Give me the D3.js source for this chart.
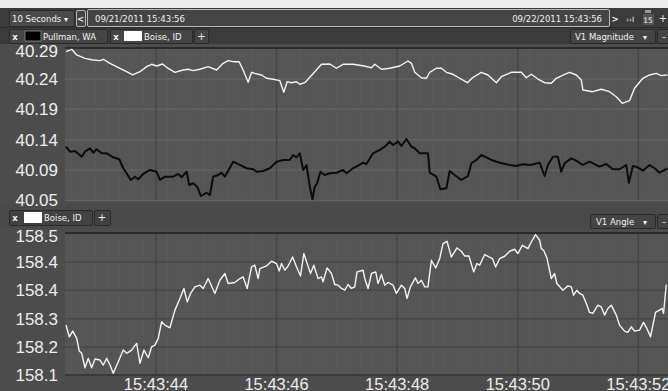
<!DOCTYPE html>
<html>
<head>
<meta charset="utf-8">
<script src="https://cdn.jsdelivr.net/npm/d3@7"></script>
<style>
  html, body { margin: 0; padding: 0; background: #e9e9e9; }
  svg { display: block; }
  .ui { font-family: "DejaVu Sans", Verdana, sans-serif; font-size: 8.5px; fill: #f2f2f2; }
  .tick text { font-family: "Liberation Sans", Arial, sans-serif; }
</style>
</head>
<body>
<svg id="chart" width="668" height="391"></svg>
<script>
// ---- data: seconds after 15:43:00 on 09/21/2011 ----
const pullmanMagTimes = [42.517,42.583,42.666,42.777,42.831,42.914,42.969,43.025,43.108,43.191,43.300,43.400,43.466,43.522,43.589,43.660,43.715,43.797,43.908,44.019,44.074,44.157,44.295,44.377,44.434,44.517,44.560,44.626,44.692,44.754,44.848,44.903,44.957,45.040,45.097,45.151,45.289,45.400,45.511,45.620,45.677,45.786,45.897,46.008,46.117,46.228,46.283,46.339,46.394,46.449,46.505,46.560,46.604,46.642,46.681,46.737,46.808,46.891,47.002,47.111,47.168,47.277,47.333,47.443,47.499,47.609,47.720,47.802,47.885,47.940,48.023,48.079,48.162,48.245,48.300,48.382,48.520,48.548,48.659,48.725,48.825,48.879,48.962,49.073,49.183,49.239,49.322,49.405,49.488,49.571,49.708,49.874,49.985,50.094,50.205,50.371,50.454,50.508,50.591,50.674,50.730,50.785,50.896,50.979,51.088,51.199,51.365,51.476,51.585,51.696,51.807,51.851,51.917,52.000,52.083,52.194,52.277,52.360,52.492];
const pullmanMagnitude = [40.1342,40.1263,40.1274,40.1184,40.1263,40.1316,40.1247,40.1301,40.1237,40.1237,40.1174,40.1143,40.1001,40.0922,40.0816,40.0868,40.0827,40.0911,40.0974,40.0947,40.0816,40.0868,40.0868,40.0911,40.0859,40.0947,40.0737,40.0764,40.0710,40.0563,40.0615,40.0579,40.0868,40.0895,40.0931,40.0868,40.1105,40.1053,40.1001,40.0985,40.0947,40.0958,40.1001,40.1105,40.1132,40.1132,40.1211,40.1174,40.1237,40.0974,40.1053,40.0710,40.0511,40.0710,40.0764,40.0947,40.0895,40.0922,40.0931,40.0974,40.0922,40.1001,40.1026,40.1089,40.1068,40.1237,40.1290,40.1342,40.1421,40.1368,40.1421,40.1353,40.1463,40.1342,40.1316,40.1237,40.1237,40.0931,40.0868,40.0669,40.0685,40.0958,40.0895,40.0816,40.0879,40.1080,40.1132,40.1211,40.1174,40.1132,40.1089,40.1053,40.1037,40.1064,40.1053,40.1089,40.0879,40.1053,40.1184,40.1184,40.0947,40.1080,40.1158,40.1121,40.1053,40.1105,40.1026,40.1068,40.0985,40.0985,40.1053,40.0773,40.1037,40.1016,40.0963,40.1053,40.1001,40.0931,40.1001];

const boiseMagTimes = [42.517,42.611,42.694,42.831,42.964,43.080,43.135,43.246,43.412,43.522,43.622,43.743,43.854,43.937,44.019,44.119,44.185,44.323,44.460,44.543,44.626,44.737,44.874,45.014,45.123,45.206,45.289,45.388,45.454,45.537,45.594,45.648,45.759,45.842,45.952,46.063,46.129,46.184,46.256,46.339,46.394,46.477,46.560,46.642,46.753,46.891,47.002,47.111,47.277,47.443,47.582,47.637,47.748,47.885,48.051,48.188,48.245,48.300,48.411,48.493,48.548,48.659,48.742,48.825,48.934,49.045,49.173,49.266,49.405,49.514,49.653,49.736,49.902,50.068,50.150,50.233,50.343,50.454,50.565,50.647,50.785,50.868,50.979,51.062,51.088,51.254,51.393,51.531,51.642,51.741,51.862,51.945,52.083,52.194,52.305,52.387,52.492];
const boiseMagnitude = [40.2842,40.2879,40.2790,40.2737,40.2710,40.2700,40.2722,40.2658,40.2580,40.2526,40.2474,40.2526,40.2605,40.2643,40.2616,40.2647,40.2595,40.2516,40.2553,40.2564,40.2542,40.2564,40.2605,40.2553,40.2658,40.2700,40.2684,40.2684,40.2553,40.2358,40.2516,40.2500,40.2474,40.2422,40.2406,40.2384,40.2200,40.2368,40.2352,40.2368,40.2327,40.2352,40.2437,40.2526,40.2643,40.2647,40.2580,40.2643,40.2643,40.2620,40.2589,40.2643,40.2564,40.2580,40.2616,40.2695,40.2658,40.2516,40.2431,40.2422,40.2516,40.2580,40.2580,40.2516,40.2485,40.2422,40.2352,40.2437,40.2516,40.2474,40.2352,40.2447,40.2516,40.2516,40.2431,40.2485,40.2410,40.2352,40.2343,40.2422,40.2485,40.2516,40.2474,40.2395,40.2237,40.2210,40.2248,40.2210,40.2131,40.2027,40.2068,40.2264,40.2422,40.2474,40.2500,40.2463,40.2474];

const boiseAngleTimes = [42.517,42.571,42.628,42.694,42.737,42.777,42.831,42.886,42.942,42.997,43.080,43.135,43.191,43.246,43.300,43.383,43.466,43.522,43.605,43.688,43.743,43.809,43.880,43.937,43.991,44.046,44.102,44.157,44.240,44.323,44.406,44.472,44.527,44.583,44.654,44.737,44.792,44.874,44.986,45.068,45.151,45.206,45.317,45.400,45.454,45.521,45.594,45.648,45.703,45.731,45.842,45.925,46.008,46.052,46.091,46.146,46.201,46.274,46.340,46.406,46.461,46.516,46.572,46.626,46.697,46.754,46.780,46.846,46.919,46.974,47.029,47.085,47.140,47.194,47.251,47.305,47.343,47.443,47.471,47.526,47.582,47.653,47.691,47.748,47.802,47.857,47.940,47.996,48.079,48.134,48.172,48.228,48.311,48.354,48.411,48.466,48.520,48.576,48.648,48.714,48.769,48.835,48.908,49.000,49.073,49.128,49.199,49.277,49.332,49.377,49.460,49.531,49.588,49.642,49.708,49.791,49.874,49.957,50.011,50.084,50.177,50.233,50.304,50.371,50.399,50.437,50.492,50.565,50.619,50.657,50.757,50.840,50.896,50.934,50.989,51.034,51.088,51.145,51.199,51.254,51.337,51.393,51.448,51.503,51.559,51.642,51.696,51.779,51.834,51.890,51.945,52.028,52.094,52.149,52.210,52.293,52.359,52.404,52.426,52.471];
const boiseAngle = [158.2405,158.2077,158.2237,158.2032,158.1675,158.1610,158.1205,158.1469,158.1205,158.1450,158.1422,158.1281,158.1469,158.1281,158.1048,158.1374,158.1703,158.1610,158.1703,158.1891,158.1329,158.1703,158.1486,158.1795,158.1843,158.2032,158.2498,158.2405,158.2330,158.2827,158.3156,158.3437,158.3060,158.3297,158.3482,158.3530,158.3437,158.3718,158.3297,158.3670,158.3859,158.3578,158.3606,158.3718,158.3763,158.3437,158.4044,158.4092,158.3718,158.3999,158.4072,158.4204,158.4140,158.3932,158.4140,158.3951,158.4072,158.4325,158.4044,158.3791,158.4421,158.4140,158.3859,158.4092,158.3718,158.3763,158.3623,158.4016,158.3859,158.3550,158.3530,158.3437,158.3389,158.3550,158.3437,158.3482,158.3904,158.3951,158.3718,158.3437,158.3859,158.3904,158.3578,158.3831,158.3530,158.3606,158.3530,158.3297,158.3530,158.3437,158.3156,158.3482,158.3735,158.3578,158.3670,158.3482,158.3482,158.4233,158.4016,158.4280,158.4702,158.4767,158.4325,158.4578,158.4486,158.4353,158.4353,158.3904,158.4140,158.4092,158.4393,158.4325,158.4280,158.4044,158.4280,158.4345,158.4486,158.4542,158.4421,158.4654,158.4561,158.4747,158.4955,158.4795,158.4561,158.4514,158.4297,158.3718,158.3859,158.3578,158.3389,158.3510,158.3482,158.3249,158.3389,158.3297,158.3249,158.3015,158.2762,158.2734,158.2968,158.2920,158.2687,158.2875,158.2968,158.2687,158.2405,158.2237,158.2200,158.2358,158.2237,158.2265,158.2481,158.2313,158.2077,158.2762,158.2827,158.2875,158.2734,158.3550];

const timeWindow = [42.5, 52.5];
const timeTicks = [44, 46, 48, 50, 52];
const magTickValues = [40.05, 40.098, 40.146, 40.194, 40.242, 40.29];
const magTickLabels = ["40.05", "40.09", "40.14", "40.19", "40.24", "40.29"];
const angleTickValues = [158.1, 158.18, 158.26, 158.34, 158.42, 158.5];
const angleTickLabels = ["158.1", "158.2", "158.3", "158.4", "158.4", "158.5"];

// ---- helpers ----
const baseTime = new Date(2011, 8, 21, 15, 43, 0).getTime();
const toDate = s => new Date(baseTime + s * 1000);
const zip = (ts, vs) => ts.map((t, i) => ({ t: toDate(t), v: vs[i] }));

const svg = d3.select("#chart");
const W = 668, H = 391;
const plotLeft = 65, plotRight = 668;

const x = d3.scaleTime().domain(timeWindow.map(toDate)).range([plotLeft, plotRight]);

// ---- page chrome ----
svg.append("rect").attr("x", 0).attr("y", 0).attr("width", W).attr("height", 8).attr("fill", "#ececec");
svg.append("rect").attr("x", 0).attr("y", 8).attr("width", W).attr("height", H - 8).attr("fill", "#4c4c4c");
svg.append("rect").attr("x", 0).attr("y", 8).attr("width", W).attr("height", 36).attr("fill", "#3b3b3b");
svg.append("line").attr("x1", 0).attr("x2", W).attr("y1", 27.5).attr("y2", 27.5).attr("stroke", "#2c2c2c");

function box(g, x0, y0, w, h, fill, stroke) {
  g.append("rect").attr("x", x0 + 0.5).attr("y", y0 + 0.5).attr("width", w).attr("height", h)
    .attr("rx", 1.5).attr("fill", fill).attr("stroke", stroke || "#2a2a2a");
}
function label(g, x0, y0, str, anchor, extra) {
  const t = g.append("text").attr("class", "ui").attr("x", x0).attr("y", y0).text(str);
  if (anchor) t.attr("text-anchor", anchor);
  if (extra) extra(t);
  return t;
}

const ui = svg.append("g");
// toolbar row
box(ui, 9, 10, 65, 16, "#4a4a4a", "#2a2a2a");
label(ui, 12, 21.5, "10 Seconds");
label(ui, 66, 21.5, "▾", "middle", t => t.style("font-size", "8px"));
box(ui, 76, 10, 9, 16, "#454545", "#b5b5b5");
label(ui, 80.5, 21.5, "<", "middle", t => t.style("font-weight", "bold"));
box(ui, 87, 9, 522, 17, "#444444", "#b8b8b8");
label(ui, 95, 21.5, "09/21/2011 15:43:56");
label(ui, 602, 21.5, "09/22/2011 15:43:56", "end");
label(ui, 615, 21.5, ">", "middle", t => t.style("font-weight", "bold"));
label(ui, 630, 21.5, "››I", "middle", t => t.style("font-size", "7.5px"));
box(ui, 642, 13, 12, 12, "#555555", "#3a3a3a");
ui.append("rect").attr("x", 645).attr("y", 10).attr("width", 6).attr("height", 3).attr("fill", "#9a9a9a");
label(ui, 648, 23, "15", "middle", t => t.style("font-size", "7.5px").attr("fill", "#cfe0f0"));
label(ui, 663, 21.5, "+", "middle", t => t.style("font-size", "10px"));

// top legend row
box(ui, 9, 29, 98, 14, "#454545");
label(ui, 15, 40, "x", "middle", t => t.style("font-weight", "bold"));
ui.append("rect").attr("x", 25).attr("y", 31).attr("width", 16).attr("height", 10).attr("fill", "#000").attr("stroke", "#777");
label(ui, 43, 39.5, "Pullman, WA");
box(ui, 110, 29, 82, 14, "#454545");
label(ui, 116, 40, "x", "middle", t => t.style("font-weight", "bold"));
ui.append("rect").attr("x", 124).attr("y", 31).attr("width", 18).attr("height", 10).attr("fill", "#fff");
label(ui, 144, 39.5, "Boise, ID");
box(ui, 194, 29, 14, 14, "#454545");
label(ui, 201.5, 40, "+", "middle", t => t.style("font-size", "10px"));
box(ui, 570, 29, 85, 14, "#454545");
label(ui, 575, 39.5, "V1 Magnitude");
label(ui, 645, 39.5, "▾", "middle", t => t.style("font-size", "8px"));
box(ui, 657, 29, 14, 14, "#454545");
label(ui, 664, 39.5, "–", "middle");

// bottom legend row
ui.append("rect").attr("x", 0).attr("y", 204).attr("width", W).attr("height", 25).attr("fill", "#4a4a4a");
box(ui, 9, 210, 83, 15, "#424242");
label(ui, 15, 221, "x", "middle", t => t.style("font-weight", "bold"));
ui.append("rect").attr("x", 24).attr("y", 212).attr("width", 18).attr("height", 11).attr("fill", "#fff");
label(ui, 44, 220.5, "Boise, ID");
box(ui, 94, 210, 16, 15, "#424242");
label(ui, 102, 221, "+", "middle", t => t.style("font-size", "10px"));
box(ui, 590, 214, 65, 14, "#454545");
label(ui, 596, 224.5, "V1 Angle");
label(ui, 645, 224.5, "▾", "middle", t => t.style("font-size", "8px"));
box(ui, 657, 214, 14, 14, "#454545");
label(ui, 664, 224.5, "–", "middle");

// ---- a value panel with its own scale ----
function panel(top, bottom, domain, tickValues, tickLabels, hGridColor, series) {
  const y = d3.scaleLinear().domain(domain).range([bottom, top]);
  const g = svg.append("g");

  g.append("rect").attr("x", plotLeft).attr("y", top).attr("width", plotRight - plotLeft)
    .attr("height", bottom - top).attr("fill", "#555555");

  // faint minor time divisions
  const minor = d3.range(Math.ceil(timeWindow[0] * 5), Math.floor(timeWindow[1] * 5) + 1).map(d => toDate(d / 5));
  g.selectAll(".minor").data(minor).join("line")
    .attr("x1", d => x(d)).attr("x2", d => x(d))
    .attr("y1", top).attr("y2", bottom)
    .attr("stroke", "#5a5a5a").attr("stroke-width", 1);

  // horizontal grid
  g.append("g").attr("transform", `translate(${plotLeft},0)`)
    .call(d3.axisLeft(y).tickValues(tickValues).tickSize(-(plotRight - plotLeft)).tickFormat(""))
    .call(a => a.select(".domain").remove())
    .call(a => a.selectAll("line").attr("stroke", hGridColor).attr("stroke-width", 1.5));

  // vertical grid at the labelled seconds
  g.append("g").attr("transform", `translate(0,${bottom})`)
    .call(d3.axisBottom(x).tickValues(timeTicks.map(toDate)).tickSize(-(bottom - top)).tickFormat(""))
    .call(a => a.select(".domain").remove())
    .call(a => a.selectAll("line").attr("stroke", "#454545").attr("stroke-width", 1.5));

  // top border
  g.append("line").attr("x1", plotLeft).attr("x2", plotRight).attr("y1", top).attr("y2", top)
    .attr("stroke", "#2c2c2c").attr("stroke-width", 2);

  // value labels
  const yl = g.append("g").attr("transform", `translate(58,0)`)
    .call(d3.axisLeft(y).tickValues(tickValues).tickSize(0)
      .tickFormat((d, i) => tickLabels[i]));
  yl.select(".domain").remove();
  yl.selectAll("text").attr("fill", "#eeeeee").style("font-size", "17px")
    .attr("x", 0).attr("dy", "0.35em")
    .attr("transform", d => (y(d) < top + 4 ? `translate(0,${top + 3 - y(d)})` : null));

  const line = d3.line().x(d => x(d.t)).y(d => y(d.v)).curve(d3.curveLinear);
  series.forEach(s => {
    g.append("path").datum(s.data).attr("fill", "none")
      .attr("stroke", s.color).attr("stroke-width", s.width)
      .attr("stroke-linejoin", "round").attr("d", line);
  });
  return g;
}

panel(48, 200, [40.05, 40.29], magTickValues, magTickLabels, "#626262", [
  { data: zip(boiseMagTimes, boiseMagnitude), color: "#f4f4f4", width: 1.4 },
  { data: zip(pullmanMagTimes, pullmanMagnitude), color: "#0c0c0c", width: 2 }
]);

panel(233, 375, [158.1, 158.5], angleTickValues, angleTickLabels, "#474747", [
  { data: zip(boiseAngleTimes, boiseAngle), color: "#f4f4f4", width: 1.4 }
]);

// bottom edge of the lower panel
svg.append("line").attr("x1", plotLeft).attr("x2", plotRight).attr("y1", 375).attr("y2", 375)
  .attr("stroke", "#3a3a3a").attr("stroke-width", 2);

// time labels, sitting on the bottom edge of the view
const xa = svg.append("g").attr("transform", "translate(0,0)")
  .call(d3.axisBottom(x).tickValues(timeTicks.map(toDate)).tickSize(0)
    .tickFormat(d3.timeFormat("%H:%M:%S")));
xa.select(".domain").remove();
xa.selectAll("text").attr("fill", "#eeeeee").style("font-size", "16.5px")
  .attr("y", 390).attr("dy", null);
</script>
</body>
</html>
